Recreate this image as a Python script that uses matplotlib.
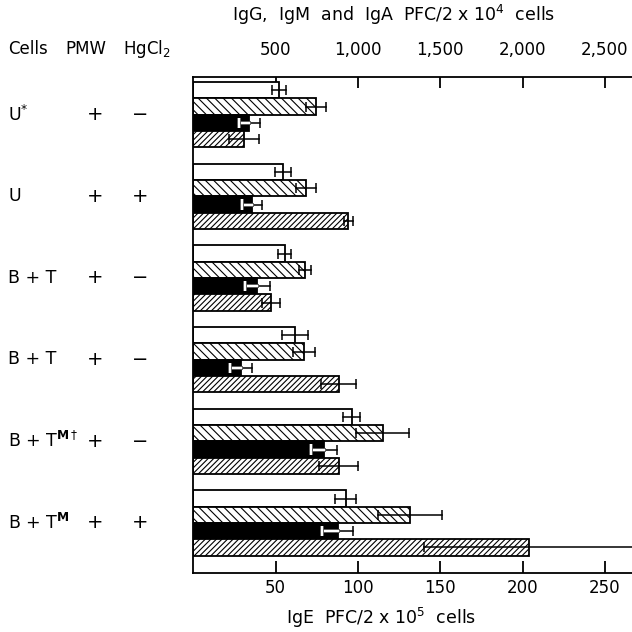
import matplotlib.pyplot as plt
import matplotlib.patheffects as pe
import numpy as np

# rows (top to bottom)
cells = [r'U$^{*}$', 'U', 'B + T', 'B + T', r'B + T$^{\mathbf{M}\dagger}$', r'B + T$^{\mathbf{M}}$']
pmw = ['+', '+', '+', '+', '+', '+']
hgcl2 = ['\u2212', '+', '\u2212', '\u2212', '\u2212', '+']

# IgG / IgM / IgA in PFC/2x10^4 cells (top scale), IgE in PFC/2x10^5 cells (bottom scale)
igm = [520, 546, 556, 617, 962, 925]
igm_err = [45, 50, 40, 81, 51, 64]
igg = [745, 684, 678, 674, 1150, 1316]
igg_err = [58, 58, 38, 66, 160, 197]
ige = [34, 35.4, 38.8, 28.9, 79.3, 87.7]
ige_err = [6.5, 6, 7.6, 6.8, 8, 9.3]
iga = [307, 941, 471, 883, 883, 2041]
iga_err = [93, 28, 56, 106, 120, 640]

top_ticks = [500, 1000, 1500, 2000, 2500]
top_labels = ['500', '1,000', '1,500', '2,000', '2,500']
bottom_ticks = [50, 100, 150, 200, 250]

plt.rcParams['hatch.linewidth'] = 0.8
plt.rcParams['font.family'] = 'DejaVu Sans'

fig = plt.figure(figsize=(6.32, 6.32), dpi=100)
ax = fig.add_axes([0.306, 0.0929, 0.694, 0.7857])

n = len(cells)
base = np.arange(n) * 5
series = [
    (igm, igm_err, 10, 'white', None),
    (igg, igg_err, 10, 'white', '\\\\\\\\'),
    (ige, ige_err, 1, 'black', None),
    (iga, iga_err, 10, 'white', '//////'),
]

for j, (vals, errs, scale, fc, hatch) in enumerate(series):
    y = base + j + 0.5
    w = np.array(vals) / scale
    e = np.array(errs) / scale
    ax.barh(y, w, height=1, color=fc, edgecolor='black', hatch=hatch, linewidth=1.3, zorder=2)
    for xi, ei, yi in zip(w, e, y):
        if fc == 'black':
            # part inside the black bar drawn in white
            ax.plot([xi, xi + ei], [yi, yi], color='black', lw=1.1, zorder=3)
            ax.plot([xi + ei], [yi], marker='|', ms=7.5, mew=1.1, color='black', zorder=3)
            wl = ax.plot([xi - ei, xi], [yi, yi], color='white', lw=1.5, zorder=4)
            wc = ax.plot([xi - ei], [yi], marker='|', ms=7.5, mew=1.5, color='white', zorder=4)
            for l in wl + wc:
                l.set_path_effects([pe.Stroke(linewidth=2.8, foreground='0.35'), pe.Normal()])
        else:
            ax.plot([xi - ei, xi + ei], [yi, yi], color='black', lw=1.1, zorder=3)
            ax.plot([xi - ei, xi + ei], [yi, yi], ls='none', marker='|', ms=7.5, mew=1.1,
                    color='black', zorder=3)

ax.set_xlim(0, 266.5)
ax.set_ylim(30.08, -0.33)
ax.set_yticks([])
ax.spines['right'].set_visible(False)
ax.spines['top'].set_visible(False)
for s in ['left', 'bottom']:
    ax.spines[s].set_linewidth(1.3)

ax.set_xticks(bottom_ticks)
ax.tick_params(axis='x', direction='in', length=9, width=1.3, pad=4, labelsize=12)

sec = ax.secondary_xaxis('top', functions=(lambda x: x * 10, lambda x: x / 10))
sec.set_xticks(top_ticks)
sec.set_xticklabels(top_labels)
sec.spines['top'].set_linewidth(1.3)
sec.tick_params(axis='x', direction='in', length=8, width=1.3, pad=13, labelsize=12)

# axis titles
fig.text(0.623, 0.976, r'IgG,  IgM  and  IgA  PFC/2 x 10$^4$  cells', ha='center', va='center', fontsize=12.5)
fig.text(0.603, 0.022, r'IgE  PFC/2 x 10$^5$  cells', ha='center', va='center', fontsize=12.5)

# left table
fig.text(0.013, 0.922, 'Cells', ha='left', va='center', fontsize=12)
fig.text(0.103, 0.922, 'PMW', ha='left', va='center', fontsize=12)
fig.text(0.195, 0.922, r'HgCl$_2$', ha='left', va='center', fontsize=12)
for i in range(n):
    yc = 1 - (114.7 + i * 81.6) / 632
    fig.text(0.013, yc, cells[i], ha='left', va='center', fontsize=12.5)
    fig.text(0.151, yc, pmw[i], ha='center', va='center', fontsize=14)
    fig.text(0.222, yc, hgcl2[i], ha='center', va='center', fontsize=14)

fig.savefig('out.png', dpi=100)
